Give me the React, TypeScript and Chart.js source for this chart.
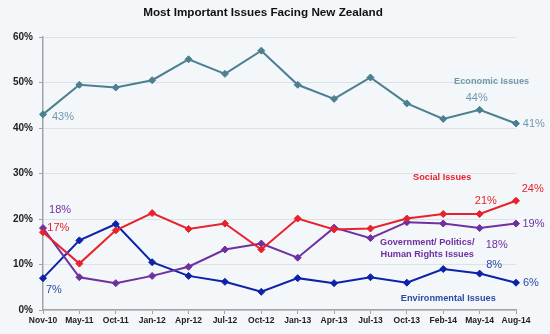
import React, { useEffect, useRef } from "react";
import { Chart, registerables } from "chart.js";

Chart.register(...registerables);

const categories = ["Nov-10", "May-11", "Oct-11", "Jan-12", "Apr-12", "Jul-12", "Oct-12", "Jan-13", "Apr-13", "Jul-13", "Oct-13", "Feb-14", "May-14", "Aug-14"];
const economic = [43, 49.5, 48.9, 50.5, 55.1, 51.9, 57, 49.5, 46.4, 51.1, 45.4, 42, 44, 41];
const social = [17.1, 10.2, 17.5, 21.3, 17.8, 19, 13.3, 20.1, 17.7, 17.9, 20.1, 21.1, 21.1, 24];
const government = [18, 7.2, 5.9, 7.5, 9.5, 13.3, 14.6, 11.5, 18.1, 15.8, 19.3, 19, 18, 19];
const environmental = [7, 15.3, 18.9, 10.5, 7.5, 6.2, 4, 7, 5.9, 7.2, 6, 9, 8, 6];
const yTicks = [0, 10, 20, 30, 40, 50, 60];

const C_ECON = "#4C7F8F";
const C_ECON_TXT = "#7198AB";
const C_SOC = "#E8222C";
const C_GOV = "#7030A0";
const C_ENV = "#0C22A8";
const C_ENV_TXT = "#2E4AA6";

type Note = { text: string; x: number; y: number; color: string; bold?: boolean };
const notes: Note[] = [
  { text: "43%", x: 0.55, y: 42.5, color: C_ECON_TXT },
  { text: "Economic Issues", x: 12.33, y: 50.2, color: C_ECON_TXT, bold: true },
  { text: "44%", x: 11.92, y: 46.5, color: C_ECON_TXT },
  { text: "41%", x: 13.49, y: 40.9, color: C_ECON_TXT },
  { text: "Social Issues", x: 10.97, y: 29.2, color: C_SOC, bold: true },
  { text: "24%", x: 13.46, y: 26.5, color: C_SOC },
  { text: "21%", x: 12.17, y: 24.0, color: C_SOC },
  { text: "19%", x: 13.48, y: 18.9, color: C_GOV },
  { text: "Government/ Politics/", x: 10.56, y: 14.8, color: C_GOV, bold: true },
  { text: "Human Rights Issues", x: 10.56, y: 12.2, color: C_GOV, bold: true },
  { text: "18%", x: 12.47, y: 14.4, color: C_GOV },
  { text: "8%", x: 12.4, y: 9.8, color: C_ENV_TXT },
  { text: "6%", x: 13.41, y: 5.9, color: C_ENV_TXT },
  { text: "Environmental Issues", x: 11.14, y: 2.6, color: C_ENV_TXT, bold: true },
  { text: "18%", x: 0.47, y: 22.0, color: C_GOV },
  { text: "17%", x: 0.42, y: 18.0, color: C_SOC },
  { text: "7%", x: 0.3, y: 4.5, color: C_ENV_TXT },
];

const FONT = "Arial, 'Liberation Sans', sans-serif";

const bgPlugin = {
  id: "bg",
  beforeDraw(chart: any) {
    const ctx = chart.ctx;
    ctx.save();
    ctx.fillStyle = "#F3F7FA";
    ctx.fillRect(0, 0, chart.width, chart.height);
    ctx.restore();
  },
};

const notesPlugin = {
  id: "notes",
  afterDatasetsDraw(chart: any) {
    const ctx = chart.ctx;
    const xs = chart.scales.x;
    const ys = chart.scales.y;
    ctx.save();
    ctx.textAlign = "center";
    ctx.textBaseline = "middle";
    for (const n of notes) {
      ctx.font = n.bold ? `bold 9.2px ${FONT}` : `11px ${FONT}`;
      ctx.fillStyle = n.color;
      ctx.fillText(n.text, xs.getPixelForValue(n.x), ys.getPixelForValue(n.y));
    }
    ctx.font = `bold 11.7px ${FONT}`;
    ctx.fillStyle = "#111";
    ctx.fillText("Most Important Issues Facing New Zealand", 263, 13);
    ctx.restore();
  },
};

function ds(label: string, data: number[], color: string) {
  return {
    label,
    data,
    borderColor: color,
    backgroundColor: color,
    borderWidth: 2,
    pointStyle: "rectRot" as const,
    pointRadius: 3.5,
    pointBorderWidth: 1,
    tension: 0,
  };
}

export default function App() {
  const ref = useRef<HTMLCanvasElement>(null);
  useEffect(() => {
    if (!ref.current) return;
    const chart = new Chart(ref.current, {
      type: "line",
      data: {
        labels: categories,
        datasets: [
          ds("Economic Issues", economic, C_ECON),
          ds("Social Issues", social, C_SOC),
          ds("Government/ Politics/ Human Rights Issues", government, C_GOV),
          ds("Environmental Issues", environmental, C_ENV),
        ],
      },
      options: {
        responsive: false,
        animation: false,
        layout: { padding: { top: 37, right: 34, left: 0, bottom: 0 } },
        plugins: { legend: { display: false }, tooltip: { enabled: false }, title: { display: false } },
        scales: {
          x: {
            offset: false,
            grid: { display: true, drawOnChartArea: false, drawTicks: true, tickLength: 4, tickColor: "#A0A4A8" },
            border: { color: "#A0A4A8", width: 1.5 },
            ticks: { color: "#222", font: { family: FONT, size: 8.5, weight: "bold" }, padding: 2, maxRotation: 0, autoSkip: false },
            afterFit: (s: any) => { s.height = 24; },
          },
          y: {
            min: 0,
            max: 60,
            afterBuildTicks: (s: any) => { s.ticks = yTicks.map((v) => ({ value: v })); },
            grid: { color: "#DDE1E4", tickLength: 4, tickColor: "#A0A4A8" },
            border: { color: "#A0A4A8", width: 1.5 },
            ticks: { color: "#222", font: { family: FONT, size: 10, weight: "bold" }, padding: 6, callback: (v: any) => v + "%" },
            afterFit: (s: any) => { s.width = 43; },
          },
        },
      },
      plugins: [bgPlugin, notesPlugin],
    });
    return () => chart.destroy();
  }, []);
  return (
    <div style={{ position: "absolute", left: 0, top: 0, width: 550, height: 334 }}>
      <canvas ref={ref} width={550} height={334} />
    </div>
  );
}
